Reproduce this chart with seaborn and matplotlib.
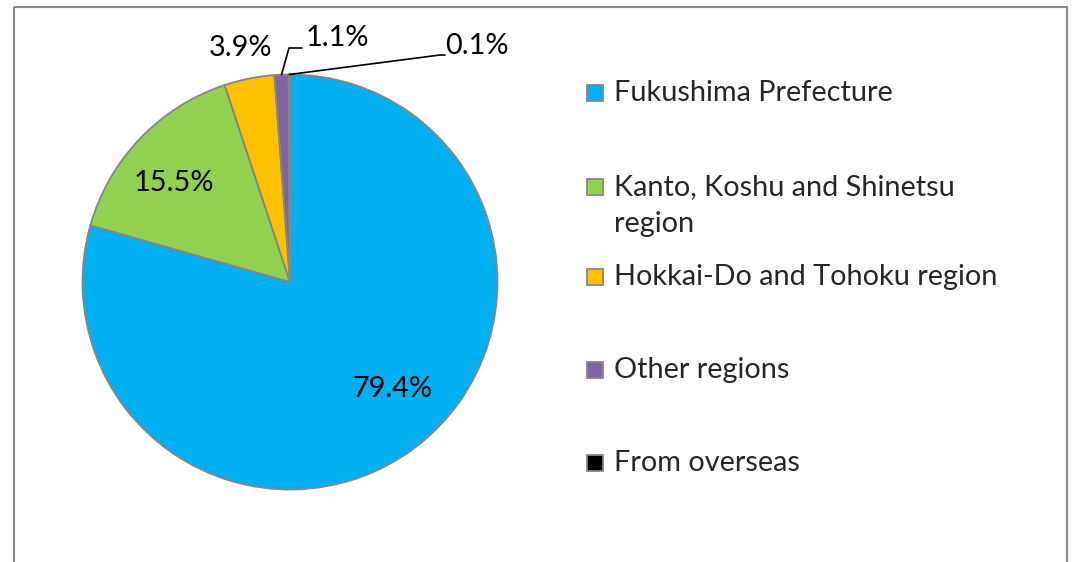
import matplotlib
matplotlib.use('Agg')
import matplotlib.pyplot as plt
import seaborn as sns
import numpy as np
from matplotlib.patches import Rectangle

sns.set_theme(style='white')
plt.rcParams['font.family'] = ['Lato', 'DejaVu Sans']

regions = ['Fukushima Prefecture', 'Kanto, Koshu and Shinetsu\nregion',
           'Hokkai-Do and Tohoku region', 'Other regions', 'From overseas']
shares = [79.4, 15.5, 3.9, 1.1, 0.1]
colors = ['#00B0F0', '#92D050', '#FFC000', '#8064A2', '#000000']

W, H = 1072, 562
fig = plt.figure(figsize=(W / 100, H / 100), dpi=100)
ax = fig.add_axes([0, 0, 1, 1])

cx, cy, r = 290, 282, 207.5
edge = '#868686'
fs = 20.8

# y axis runs downwards (image coords), so counterclock=True is clockwise on screen
wedges, texts, autotexts = ax.pie(
    shares, colors=colors, startangle=-90, counterclock=True,
    center=(cx, cy), radius=r, autopct='%.1f%%', pctdistance=0.72,
    wedgeprops=dict(edgecolor=edge, linewidth=1.3),
    textprops=dict(fontsize=fs, color='black'))

ax.set_xlim(0, W)
ax.set_ylim(H, 0)
ax.set_aspect('equal')
ax.axis('off')

autotexts[0].set_position((393, 389))
autotexts[1].set_position((174, 183))
autotexts[2].set_position((241, 48))

# outside labels with leader lines for the small slices
elbows = {3: ((289, 48), (302, 48), (337, 38)),
          4: ((440, 55), (445, 55), (477, 46))}
for i, (e1, e2, tp) in elbows.items():
    w = wedges[i]
    mid = np.deg2rad((w.theta1 + w.theta2) / 2)
    px, py = cx + r * np.cos(mid), cy + r * np.sin(mid)
    ax.plot([px, e1[0], e2[0]], [py, e1[1], e2[1]], color='black', lw=1.2)
    autotexts[i].set_position(tp)

# legend
ys = [93, 187, 277, 370, 463]
for lab, col, y in zip(regions, colors, ys):
    ax.add_patch(Rectangle((587, y - 8), 16, 16, facecolor=col,
                           edgecolor=edge, linewidth=1.3))
    for k, line in enumerate(lab.split('\n')):
        ax.text(614, y + 37 * k, line, fontsize=fs, va='center', ha='left')

# chart frame
ax.add_patch(Rectangle((14, 7), 1053, 600, fill=False, edgecolor='#898989',
                       linewidth=1.5, clip_on=False))

fig.savefig('out.png', dpi=100)
